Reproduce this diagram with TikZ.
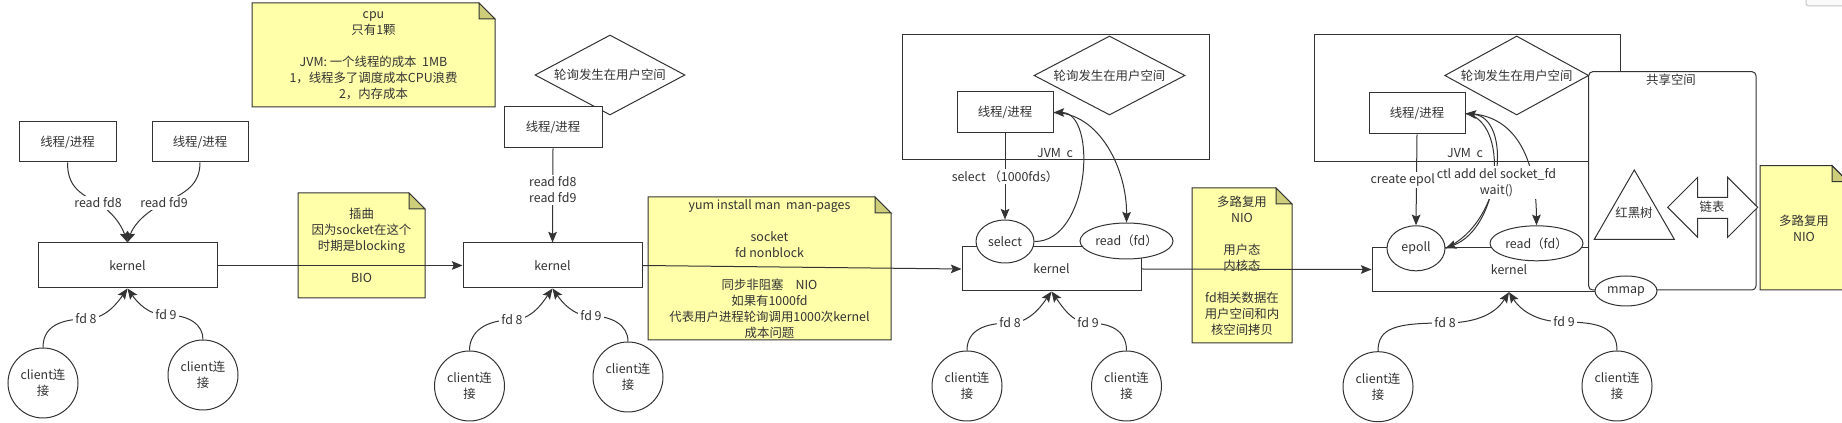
\documentclass[tikz,border=0pt]{standalone}
\usepackage{fontspec}
\setmainfont{Noto Sans CJK SC}
\usetikzlibrary{arrows.meta,shapes.geometric}
\definecolor{ln}{HTML}{333333}
\definecolor{notey}{HTML}{FFFFAA}
\definecolor{foldc}{HTML}{CDCD7A}
\newcommand\drawnote[4]{%
  \draw[ln, fill=notey] (#1,#2) -- ({#3-16},#2) -- (#3,{#2+16}) -- (#3,#4) -- (#1,#4) -- cycle;
  \draw[ln, fill=foldc] ({#3-16},#2) -- ({#3-16},{#2+16}) -- (#3,{#2+16}) -- cycle;
}
\tikzset{
  every node/.style={font=\fontsize{9.3}{12}\selectfont, text=ln},
  sz/.style 2 args={minimum width=#1*0.75pt, minimum height=#2*0.75pt},
  box/.style={draw=ln, fill=white, inner sep=0pt},
  dia/.style 2 args={diamond, draw=ln, fill=white, inner sep=0pt, sz={#1}{#2}},
  ell/.style 2 args={ellipse, draw=ln, fill=white, inner sep=0pt, sz={#1}{#2}},
  client/.style={circle, draw=ln, fill=white, minimum size=70*0.75pt, inner sep=0pt, align=center},
  lbl/.style={fill=white, inner sep=1.5pt},
  arr/.style={-{Stealth[length=8pt,width=6.5pt,inset=1.5pt]}, draw=ln},
  txt/.style={align=center, inner sep=0pt}
}
\begin{document}
\begin{tikzpicture}[x=0.75pt, y=-0.75pt, line width=0.75pt, color=ln]
\useasboundingbox[fill=white] (0,0) rectangle (1842,423);

% ---------- notes ----------
\drawnote{252}{3}{495}{107}
\node[txt] (n1) at (373.5,55.5) {cpu\\只有1颗\\[12pt]JVM: 一个线程的成本~~1MB\\1，线程多了调度成本CPU浪费\\2，内存成本};
\drawnote{298}{193}{425}{298}
\node[txt] (n2) at (361.5,245.5) {插曲\\因为socket在这个\\时期是blocking\\[12pt]BIO};
\drawnote{648}{197}{891}{340}
\node[txt] (n3) at (769.5,269.5) {yum install man~~man-pages\\[12pt]socket\\fd nonblock\\[12pt]同步非阻塞\hspace{9pt}NIO\\如果有1000fd\\代表用户进程轮询调用1000次kernel\\成本问题};
\drawnote{1192}{188}{1292}{343}
\node[txt] (n4) at (1242,265.5) {多路复用\\NIO\\[12pt]用户态\\内核态\\[12pt]fd相关数据在\\用户空间和内\\核空间拷贝};
\drawnote{1760}{165.7}{1848}{290}
\node[txt] (n5) at (1804,228) {多路复用\\NIO};
\draw[gray!45, fill=gray!4, rounded corners=2pt] (1806,-10) rectangle (1860,6);

% ---------- section 1 ----------
\node[box, sz={97}{40}] (b1a) at (67.5,142) {线程/进程};
\node[box, sz={96}{40}] (b1b) at (200,142) {线程/进程};
\node[box, sz={179}{45}] (k1) at (127.5,265.5) {kernel};
\node[client] (c1a) at (43,383) {client连\\接};
\node[client] (c1b) at (203,375) {client连\\接};
\draw[arr] (b1a.south) .. controls (67.5,185) and (78,193) .. (98,203) node[lbl]{read fd8} .. controls (112,212) and (121,224) .. (k1.north);
\draw[arr] (b1b.south) .. controls (200,185) and (185,193) .. (164,203) node[lbl]{read fd9} .. controls (146,212) and (134,224) .. (k1.north);
\draw[arr] (c1a.north) .. controls (43,330) and (55,319) .. (86,319) node[lbl]{fd 8} .. controls (106,319) and (118,302) .. (k1.south);
\draw[arr] (c1b.north) .. controls (203,325) and (190,315) .. (166,315) node[lbl]{fd 9} .. controls (148,315) and (137,302) .. (k1.south);

% ---------- section 2 ----------
\node[dia={150}{80}] (d2) at (610,75) {\makebox[0pt]{轮询发生在用户空间}};
\node[box, sz={98}{41}] (b2) at (553,127.5) {线程/进程};
\node[box, sz={179}{45}] (k2) at (552.5,265.5) {kernel};
\node[client] (c2a) at (469.5,386) {client连\\接};
\node[client] (c2b) at (628,377) {client连\\接};
\draw[arr] (b2.south) -- node[lbl, pos=0.44, align=center] {read fd8\\read fd9} (k2.north);
\draw[arr] (c2a.north) .. controls (469.5,332) and (485,320) .. (512,320) node[lbl]{fd 8} .. controls (532,320) and (543,302) .. (k2.south);
\draw[arr] (c2b.north) .. controls (628,325) and (612,316) .. (591,316) node[lbl]{fd 9} .. controls (573,316) and (562,302) .. (k2.south);

% ---------- section 3 ----------
\node[box, sz={307}{125}] (j3) at (1055.5,97.5) {};
\node (j3l) at (1055,153) {JVM~~c};
\node[dia={151}{79}] (d3) at (1109.5,75.5) {\makebox[0pt]{轮询发生在用户空间}};
\node[box, sz={96}{41}] (b3) at (1005,112.5) {线程/进程};
\node[box, sz={179}{44}] (k3) at (1051.5,269) {kernel};
\node[ell={58}{43}] (sel3) at (1005,241.5) {\makebox[0pt]{select}};
\node[ell={93}{36}] (rd3) at (1126.5,241) {\makebox[0pt]{read（fd）}};
\node[client] (c3a) at (967,386) {client连\\接};
\node[client] (c3b) at (1126.5,386) {client连\\接};
\draw[arr] (b3.south) -- node[lbl, pos=0.5]{select （1000fds）} (sel3.north);
\draw[arr] (sel3.east) .. controls (1090,242) and (1098,112.5) .. (b3.east);
\draw[arr] (b3.east) .. controls (1100,112.5) and (1127,170) .. (rd3.north);
\draw[arr] (c3a.north) .. controls (967,330) and (985,323) .. (1010,323) node[lbl]{fd 8} .. controls (1030,323) and (1042,305) .. (k3.south);
\draw[arr] (c3b.north) .. controls (1126.5,330) and (1110,323) .. (1088,323) node[lbl]{fd 9} .. controls (1072,323) and (1061,305) .. (k3.south);

% ---------- section 4 ----------
\node[box, sz={306}{127}] (j4) at (1467,98.5) {};
\node (j4l) at (1465,153) {JVM~~c};
\node[dia={144}{79}] (d4) at (1516.7,75.5) {\makebox[0pt]{轮询发生在用户空间}};
\node[box, sz={96}{41}] (b4) at (1417,113.5) {线程/进程};
\node[box, sz={274}{44.4}] (k4) at (1509,269.5) {kernel};
\node[box, rounded corners=3pt, sz={167.3}{218.3}] (sh4) at (1672.35,180.85) {};
\node (sh4l) at (1671,79.5) {共享空间};
\path[draw=ln, fill=white] (1634.3,170) -- (1674.3,239.3) -- (1594.3,239.3) -- cycle;
\node (rbt) at (1634,213) {红黑树};
\path[draw=ln, fill=white] (1667.7,207.3) -- (1697.7,177.3) -- (1697.7,197.3) -- (1727.7,197.3) -- (1727.7,177.3) -- (1757.7,207.3) -- (1727.7,237.3) -- (1727.7,218.3) -- (1697.7,218.3) -- (1697.7,237.3) -- cycle;
\node (lst) at (1712,207) {链表};
\node[ell={62}{30}] (mm4) at (1626,291) {\makebox[0pt]{mmap}};
\node[ell={58}{45}] (ep4) at (1416,248.3) {\makebox[0pt]{epoll}};
\node[ell={93}{35}] (rd4) at (1536.5,243.3) {\makebox[0pt]{read（fd）}};
\node[client] (c4a) at (1378,386.7) {client连\\接};
\node[client] (c4b) at (1617,386) {client连\\接};
\draw[arr] (b4.south) -- node[lbl, pos=0.5, xshift=-9pt]{create epoll} (ep4.north);
\draw[arr] (ep4.east) .. controls (1505,222) and (1512,118) .. (b4.east);
\draw[arr] (b4.east) .. controls (1510,121) and (1501,227) .. (ep4.east);
\draw[arr] (b4.east) .. controls (1510,113.5) and (1536,150) .. (rd4.north);
\node[lbl, align=center] (ctl) at (1496.5,182.5) {ctl add del socket\_fd\\wait()};
\draw[arr] (c4a.north) .. controls (1378,328) and (1395,323) .. (1445,323) node[lbl]{fd 8} .. controls (1485,323) and (1499,308) .. (k4.south);
\draw[arr] (c4b.north) .. controls (1617,328) and (1600,322) .. (1564,322) node[lbl]{fd 9} .. controls (1534,322) and (1519,308) .. (k4.south);

% ---------- kernel to kernel ----------
\draw[arr] (k1.east) -- (k2.west);
\draw[arr] (k2.east) -- (k3.west);
\draw[arr] (k3.east) -- (k4.west);
\end{tikzpicture}
\end{document}
